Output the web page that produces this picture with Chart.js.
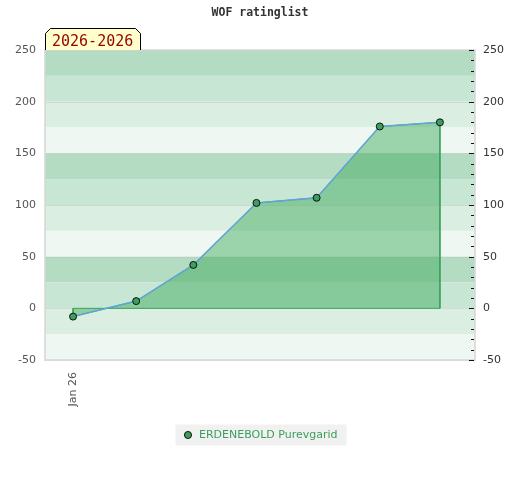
<!DOCTYPE html>
<html>
<head>
<meta charset="utf-8">
<title>WOF ratinglist</title>
<script src="https://cdn.jsdelivr.net/npm/chart.js@4.4.1/dist/chart.umd.min.js"></script>
<style>
    html, body { margin: 0; padding: 0; background: #fff; }
    #wrap { width: 520px; height: 480px; }
</style>
</head>
<body>
<div id="wrap"><canvas id="ratingChart" width="520" height="480"></canvas></div>
<script>
// Chart data
const periodLabel = '2026-2026';
const playerName = 'ERDENEBOLD Purevgarid';
const tickLabels = ['Jan 26'];
const xDays = [0, 21, 40, 61, 81, 102, 122];
const ratings = [-8, 7, 42, 102, 107, 176, 180];
const yTicksMajor = [-50, 0, 50, 100, 150, 200, 250];

// Background band colours, top to bottom, repeating every 4 bands
const bandColors = ['#b3dcc3', '#c8e6d4', '#dbeee2', '#eff7f2'];
const bandStep = 25;

// Closed outline of the area under the rating line
function areaPoints() {
    const pts = xDays.map((x, i) => ({ x: x, y: ratings[i] }));
    pts.push({ x: xDays[xDays.length - 1], y: 0 });
    pts.push({ x: xDays[0], y: 0 });
    pts.push({ x: xDays[0], y: ratings[0] });
    return pts;
}

// Draw the striped background, grid and frame
const backgroundPlugin = {
    id: 'bands',
    beforeDatasetsDraw(chart) {
        const ctx = chart.ctx;
        const area = chart.chartArea;
        const y = chart.scales.y;
        ctx.save();
        let idx = 0;
        for (let top = y.max; top > y.min; top -= bandStep) {
            const yTop = y.getPixelForValue(top);
            const yBot = y.getPixelForValue(top - bandStep);
            ctx.fillStyle = bandColors[idx % bandColors.length];
            ctx.fillRect(area.left, yTop, area.right - area.left, yBot - yTop);
            idx++;
        }
        ctx.strokeStyle = 'rgba(190,190,190,0.45)';
        ctx.lineWidth = 1;
        yTicksMajor.forEach(v => {
            const py = Math.round(y.getPixelForValue(v)) + 0.5;
            ctx.beginPath();
            ctx.moveTo(area.left, py);
            ctx.lineTo(area.right, py);
            ctx.stroke();
        });
        ctx.strokeStyle = '#d6d6d6';
        ctx.lineWidth = 1.5;
        ctx.strokeRect(area.left, area.top, area.right - area.left, area.bottom - area.top);
        ctx.restore();
    }
};

// Small tick marks on the right axis, the period tab and the legend background
const overlayPlugin = {
    id: 'overlay',
    beforeDraw(chart) {
        const legend = chart.legend;
        if (legend && legend.legendHitBoxes && legend.legendHitBoxes.length) {
            const hb = legend.legendHitBoxes[0];
            const ctx = chart.ctx;
            ctx.save();
            ctx.fillStyle = '#f1f1f1';
            ctx.fillRect(hb.left - 7, hb.top - 5, hb.width + 16, 21);
            ctx.restore();
        }
    },
    afterDraw(chart) {
        const ctx = chart.ctx;
        const area = chart.chartArea;
        const y2 = chart.scales.y2;
        ctx.save();
        ctx.strokeStyle = '#111';
        ctx.lineWidth = 1;
        y2.ticks.forEach(t => {
            const py = Math.round(y2.getPixelForValue(t.value)) + 0.5;
            const len = t.value % 50 === 0 ? 5 : 3;
            ctx.beginPath();
            ctx.moveTo(area.right - len - 1, py);
            ctx.lineTo(area.right - 1, py);
            ctx.stroke();
        });

        // Period tab above the top-left corner
        const L = area.left + 0.5, R = area.left + 95.5, T = area.top - 21.5, B = area.top;
        ctx.beginPath();
        ctx.moveTo(L, B);
        ctx.lineTo(L, T + 5);
        ctx.lineTo(L + 5, T);
        ctx.lineTo(R - 5, T);
        ctx.lineTo(R, T + 5);
        ctx.lineTo(R, B);
        ctx.fillStyle = '#ffffcc';
        ctx.fill();
        ctx.strokeStyle = '#000';
        ctx.stroke();
        ctx.fillStyle = '#990000';
        ctx.font = '15px "DejaVu Sans Mono"';
        ctx.textBaseline = 'alphabetic';
        ctx.fillText(periodLabel, L + 6.5, B - 4);
        ctx.restore();
    }
};

// Initialize rating chart
function initRatingChart() {
    const ctx = document.getElementById('ratingChart').getContext('2d');

    const data = {
        datasets: [{
            label: playerName,
            data: xDays.map((x, i) => ({ x: x, y: ratings[i] })),
            borderColor: '#62a3da',
            borderWidth: 1.5,
            fill: false,
            tension: 0,
            pointBackgroundColor: '#3a9f5d',
            pointBorderColor: '#111',
            pointBorderWidth: 1,
            pointRadius: 3.5,
            pointHoverRadius: 3.5
        }, {
            label: 'area',
            data: areaPoints(),
            borderColor: '#3aa35c',
            borderWidth: 1,
            backgroundColor: 'rgba(57,168,88,0.46)',
            fill: 'shape',
            tension: 0,
            pointRadius: 0,
            pointHoverRadius: 0
        }]
    };

    const config = {
        type: 'line',
        data: data,
        plugins: [backgroundPlugin, overlayPlugin],
        options: {
            responsive: false,
            animation: false,
            events: [],
            layout: {
                padding: { left: 0, right: 0, top: 0, bottom: 29.5 }
            },
            plugins: {
                title: {
                    display: true,
                    text: 'WOF ratinglist',
                    color: '#333',
                    font: { family: '"DejaVu Sans Mono"', size: 11.5, weight: 'bold' },
                    padding: { top: 6, bottom: 30.2 }
                },
                legend: {
                    position: 'bottom',
                    labels: {
                        usePointStyle: true,
                        boxHeight: 5,
                        padding: 10,
                        font: { family: '"DejaVu Sans"', size: 11 },
                        color: '#3a9f5a',
                        generateLabels: function() {
                            return [{
                                text: playerName,
                                fillStyle: '#3a9f5d',
                                strokeStyle: '#111',
                                lineWidth: 1,
                                pointStyle: 'circle',
                                fontColor: '#3a9f5a',
                                datasetIndex: 0
                            }];
                        }
                    }
                },
                tooltip: { enabled: false }
            },
            scales: {
                x: {
                    type: 'linear',
                    min: -9.33,
                    max: 133.67,
                    grid: { display: false, drawTicks: false },
                    border: { display: false },
                    afterBuildTicks: function(scale) {
                        scale.ticks = [{ value: xDays[0] }];
                    },
                    afterFit: function(scale) {
                        scale.height = 59.5;
                    },
                    ticks: {
                        minRotation: 90,
                        maxRotation: 90,
                        padding: 12,
                        color: '#555',
                        font: { family: '"DejaVu Sans"', size: 11 },
                        callback: function(value, index) {
                            return tickLabels[index];
                        }
                    }
                },
                y: {
                    position: 'left',
                    min: -50,
                    max: 250,
                    grid: { display: false, drawTicks: false },
                    border: { display: false },
                    afterFit: function(scale) {
                        scale.width = 45;
                    },
                    ticks: {
                        stepSize: 50,
                        padding: 9,
                        color: '#555',
                        font: { family: '"DejaVu Sans"', size: 11 }
                    }
                },
                y2: {
                    position: 'right',
                    min: -50,
                    max: 250,
                    grid: { display: false, drawTicks: false },
                    border: { display: false },
                    afterFit: function(scale) {
                        scale.width = 45;
                    },
                    ticks: {
                        stepSize: 10,
                        autoSkip: false,
                        padding: 8,
                        color: '#333',
                        font: { family: '"DejaVu Sans"', size: 11 },
                        callback: function(value) {
                            return value % 50 === 0 ? String(value) : '';
                        }
                    }
                }
            }
        }
    };

    new Chart(ctx, config);
}

document.addEventListener('DOMContentLoaded', () => {
    initRatingChart();
});
</script>
</body>
</html>
